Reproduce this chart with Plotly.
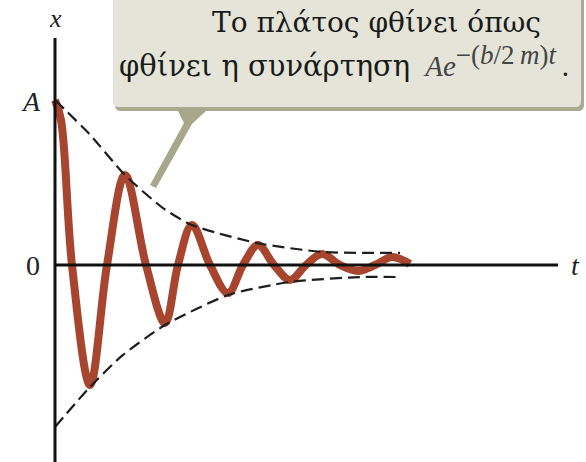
import plotly.graph_objects as go

W, H = 586, 462

# Damped oscillation (t: arbitrary time units, x: in units of A)
t_curve = [0.0, 0.6, 1.7, 3.5, 5.2, 7.0, 9.1, 11.0, 12.3, 13.7, 15.5, 17.3, 18.8,
           20.3, 21.9, 23.5, 25.1, 26.7, 28.5, 30.3, 32.0, 33.7, 35.5]
x_curve = [1.0, 0.879, 0.0, -0.727, 0.0, 0.545, 0.0, -0.352, 0.0, 0.242, 0.0, -0.170, 0.0,
           0.121, 0.0, -0.091, 0.0, 0.067, 0.0, -0.036, 0.0, 0.048, 0.006]

# Envelope (dashed)
t_env_up = [0.0, 3.5, 7.0, 10.8, 13.7, 20.2, 26.8, 34.5]
x_env_up = [1.0, 0.79, 0.545, 0.345, 0.242, 0.133, 0.079, 0.073]
t_env_lo = [0.0, 3.5, 6.8, 11.0, 17.3, 23.5, 30.5, 34.5]
x_env_lo = [-0.982, -0.739, -0.545, -0.364, -0.182, -0.103, -0.073, -0.073]

# Axis extents
t_axis_end = 50.3
x_axis_top = 1.376
x_axis_bottom = -1.194

# pixel -> data mapping used for the axis ranges
T_PER_PX = 0.1
X_PER_PX = 1 / 165.0
t_range = [(0 - 55) * T_PER_PX, (W - 55) * T_PER_PX]
x_range = [(265 - H) * X_PER_PX, (265 - 0) * X_PER_PX]

def px(x):
    return x / W

def py(y):
    return 1 - y / H

fig = go.Figure()
fig.add_trace(go.Scatter(x=t_curve, y=x_curve, mode="lines",
                         line=dict(color="#a8452f", width=8, shape="spline", smoothing=1.0),
                         hoverinfo="skip"))
for tt, xx in ((t_env_up, x_env_up), (t_env_lo, x_env_lo)):
    fig.add_trace(go.Scatter(x=tt, y=xx, mode="lines",
                             line=dict(color="#1e1e1e", width=2.2, dash="12px,6px",
                                       shape="spline", smoothing=0.6),
                             hoverinfo="skip"))

shapes = []
# axes
shapes.append(dict(type="line", xref="x", yref="y", x0=0, x1=t_axis_end, y0=0, y1=0,
                   line=dict(color="#111111", width=3)))
shapes.append(dict(type="line", xref="x", yref="y", x0=0, x1=0, y0=x_axis_bottom, y1=x_axis_top,
                   line=dict(color="#111111", width=3)))

# callout box (shadow + body)
def rounded_rect(x0, y0, x1, y1, r):
    return (f"M {px(x0)},{py(y0)} L {px(x1)},{py(y0)} L {px(x1)},{py(y1 - r)} "
            f"Q {px(x1)},{py(y1)} {px(x1 - r)},{py(y1)} L {px(x0 + r)},{py(y1)} "
            f"Q {px(x0)},{py(y1)} {px(x0)},{py(y1 - r)} Z")

shapes.append(dict(type="path", xref="paper", yref="paper",
                   path=rounded_rect(115, -20, 584, 111, 6),
                   fillcolor="#a9aa90", line=dict(width=0)))
shapes.append(dict(type="path", xref="paper", yref="paper",
                   path=rounded_rect(113, -20, 581, 107, 6),
                   fillcolor="#e4e5d8", line=dict(width=0)))
# pointer
ptr = [(177, 109), (208, 109), (192, 124), (156, 188), (150, 185), (184, 123)]
path = "M " + " L ".join(f"{px(a)},{py(b)}" for a, b in ptr) + " Z"
shapes.append(dict(type="path", xref="paper", yref="paper", path=path,
                   fillcolor="#a6a78b", line=dict(width=0)))

greek = "DejaVu Serif"
serif = "Liberation Serif"
line1 = "Το πλάτος φθίνει όπως"
line2 = "φθίνει η συνάρτηση"
formula = ("<span style='font-family:\"Liberation Serif\";color:#444444'><i>Ae</i></span>"
           "<sup><span style='font-family:\"Liberation Serif\";font-size:27px;color:#444444'>"
           "−(<i>b</i>/2\u2009<i>m</i>)<i>t</i></span></sup>"
           "<span style='font-family:\"Liberation Serif\"'>\u2009.</span>")

ann = []
ann.append(dict(text=line1, x=px(376), y=py(22), xref="paper", yref="paper",
                showarrow=False, xanchor="center", yanchor="middle", borderpad=0,
                font=dict(family=greek, size=28, color="#1a1a1a")))
ann.append(dict(text=line2 + " \u2009" + formula, x=px(118), y=py(84), xref="paper", yref="paper",
                showarrow=False, xanchor="left", yanchor="bottom", borderpad=0,
                font=dict(family=greek, size=29, color="#1a1a1a")))
# axis labels
ann.append(dict(text="<i>x</i>", x=px(55), y=py(19), xref="paper", yref="paper",
                showarrow=False, xanchor="center", yanchor="middle",
                font=dict(family=serif, size=26, color="#222222")))
ann.append(dict(text="<i>A</i>", x=px(31), y=py(102), xref="paper", yref="paper",
                showarrow=False, xanchor="center", yanchor="middle",
                font=dict(family=serif, size=28, color="#222222")))
ann.append(dict(text="0", x=px(33), y=py(265), xref="paper", yref="paper",
                showarrow=False, xanchor="center", yanchor="middle",
                font=dict(family=serif, size=28, color="#222222")))
ann.append(dict(text="<i>t</i>", x=px(575), y=py(265), xref="paper", yref="paper",
                showarrow=False, xanchor="center", yanchor="middle",
                font=dict(family=serif, size=28, color="#222222")))

fig.update_layout(
    width=W, height=H, margin=dict(l=0, r=0, t=0, b=0),
    paper_bgcolor="white", plot_bgcolor="white", showlegend=False,
    xaxis=dict(range=t_range, visible=False, fixedrange=True),
    yaxis=dict(range=x_range, visible=False, fixedrange=True),
    shapes=shapes, annotations=ann,
)
fig.write_html("out.html", config={"displayModeBar": False},
               post_script="document.body.style.margin='0';")
